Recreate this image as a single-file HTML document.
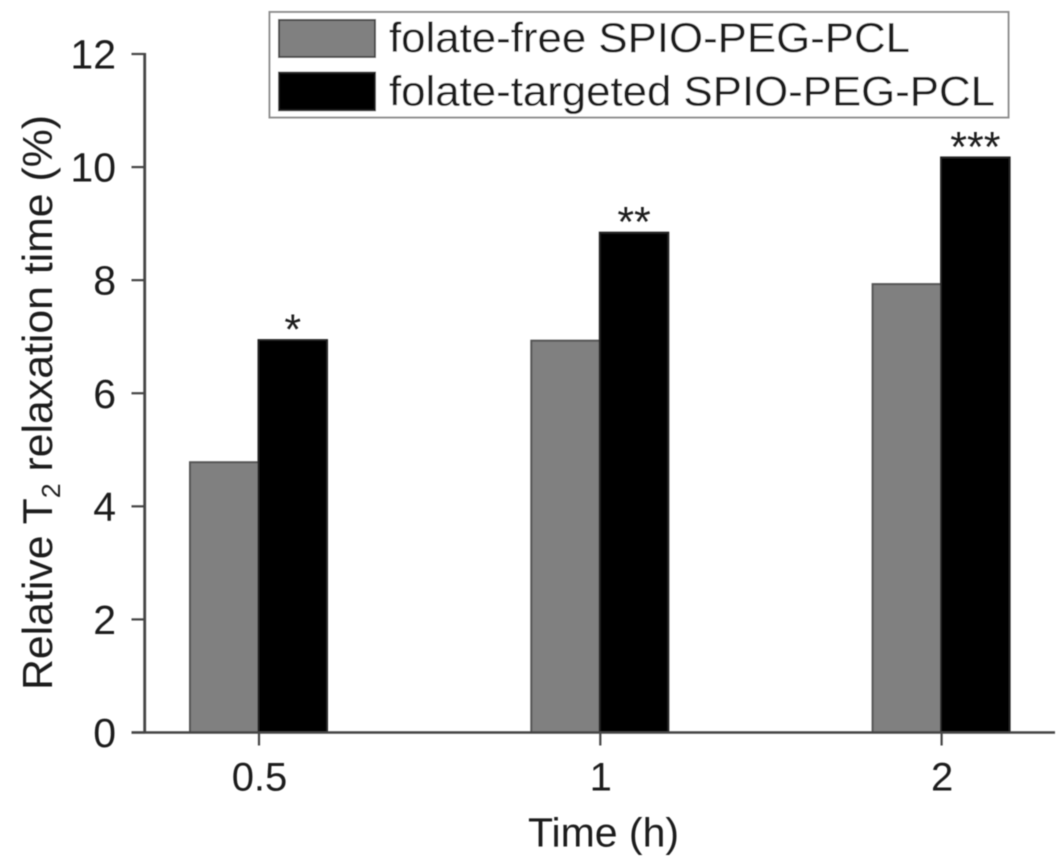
<!DOCTYPE html>
<html lang="en">
<head>
<meta charset="utf-8">
<title>Relative T2 relaxation time</title>
<style>
  html, body { margin: 0; padding: 0; background: #fff; }
  svg { display: block; }
  text { font-family: "Liberation Sans", sans-serif; fill: #1e1e1e; }
</style>
</head>
<body>
<svg id="chart" xmlns="http://www.w3.org/2000/svg" width="1063" height="860" viewBox="0 0 1063 860">
  <defs>
    <filter id="soft" x="-5%" y="-5%" width="110%" height="110%"><feGaussianBlur stdDeviation="0.55"/></filter>
  </defs>
  <rect x="0" y="0" width="1063" height="860" fill="#fff"/>
  <g id="plot" filter="url(#soft)"></g>
  <g filter="url(#soft)">
    <rect x="269.5" y="12" width="739" height="105.5" fill="#fff" stroke="#8f8f8f" stroke-width="2"/>
    <rect x="279" y="20" width="96" height="37" fill="#808080" stroke="#4a4a4a" stroke-width="2"/>
    <text x="389" y="52" font-size="41.8" textLength="521" lengthAdjust="spacingAndGlyphs">folate-free SPIO-PEG-PCL</text>
    <rect x="279" y="72.7" width="96" height="37.5" fill="#000" stroke="#222" stroke-width="2"/>
    <text x="389" y="105.7" font-size="41.8" textLength="606" lengthAdjust="spacingAndGlyphs">folate-targeted SPIO-PEG-PCL</text>
  </g>
  <g filter="url(#soft)">
    <text transform="translate(52,690) rotate(-90)" font-size="41.5" textLength="575" lengthAdjust="spacingAndGlyphs">Relative T<tspan font-size="26" dy="8">2</tspan><tspan dy="-8"> relaxation time (%)</tspan></text>
  </g>
  <text x="603.5" y="846.5" text-anchor="middle" font-size="41" filter="url(#soft)">Time (h)</text>
</svg>
<script>
const categories = ["0.5", "1", "2"];
const folateFree = [4.78, 6.93, 7.93];
const folateTargeted = [6.94, 8.84, 10.17];
const significance = ["*", "**", "***"];
const yTicks = [0, 2, 4, 6, 8, 10, 12];

const NS = "http://www.w3.org/2000/svg";
const plot = document.getElementById("plot");

function yScale(v) { return 732.5 - v * (678.5 / 12); }
function xScale(i) { return 258.5 + i * 341.3; }

function make(tag, attrs, text) {
  const el = document.createElementNS(NS, tag);
  for (const k in attrs) el.setAttribute(k, attrs[k]);
  if (text !== undefined) el.textContent = text;
  plot.appendChild(el);
  return el;
}

const barWidth = 68.5;
categories.forEach(function (cat, i) {
  const cx = xScale(i);

  const gray = make("rect", {
    x: cx - barWidth, y: yScale(folateFree[i]),
    width: barWidth, height: yScale(0) - yScale(folateFree[i]),
    fill: "#808080", stroke: "#555", "stroke-width": 2
  });
  
  

  const black = make("rect", {
    x: cx, y: yScale(folateTargeted[i]),
    width: barWidth, height: yScale(0) - yScale(folateTargeted[i]),
    fill: "#000", stroke: "#222", "stroke-width": 2
  });
  
  

  const star = make("text", {
    x: cx + barWidth / 2, y: yScale(folateTargeted[i]) + 4,
    "text-anchor": "middle", "font-size": 43
  }, significance[i]);
  
  

  const tick = make("line", {
    x1: cx + 0.5, x2: cx + 0.5, y1: yScale(0), y2: 745.5,
    stroke: "#444", "stroke-width": 2.2
  });
  
  

  const label = make("text", {
    x: cx + 1, y: 790.5, "text-anchor": "middle", "font-size": 40
  }, cat);
  
  
});

yTicks.forEach(function (t) {
  const tick = make("line", {
    x1: 131.5, x2: 145, y1: yScale(t), y2: yScale(t),
    stroke: "#444", "stroke-width": 2.2
  });
  
  

  const label = make("text", {
    x: 116, y: yScale(t) + 14.5, "text-anchor": "end", "font-size": 41
  }, String(t));
  
  
});

const yAxis = make("line", {
  x1: 144.7, x2: 144.7, y1: yScale(12) - 1, y2: yScale(0) + 1,
  stroke: "#444", "stroke-width": 2.8
});



const xAxis = make("line", {
  x1: 131.5, x2: 1055, y1: yScale(0), y2: yScale(0),
  stroke: "#444", "stroke-width": 2.6
});


</script>
</body>
</html>
